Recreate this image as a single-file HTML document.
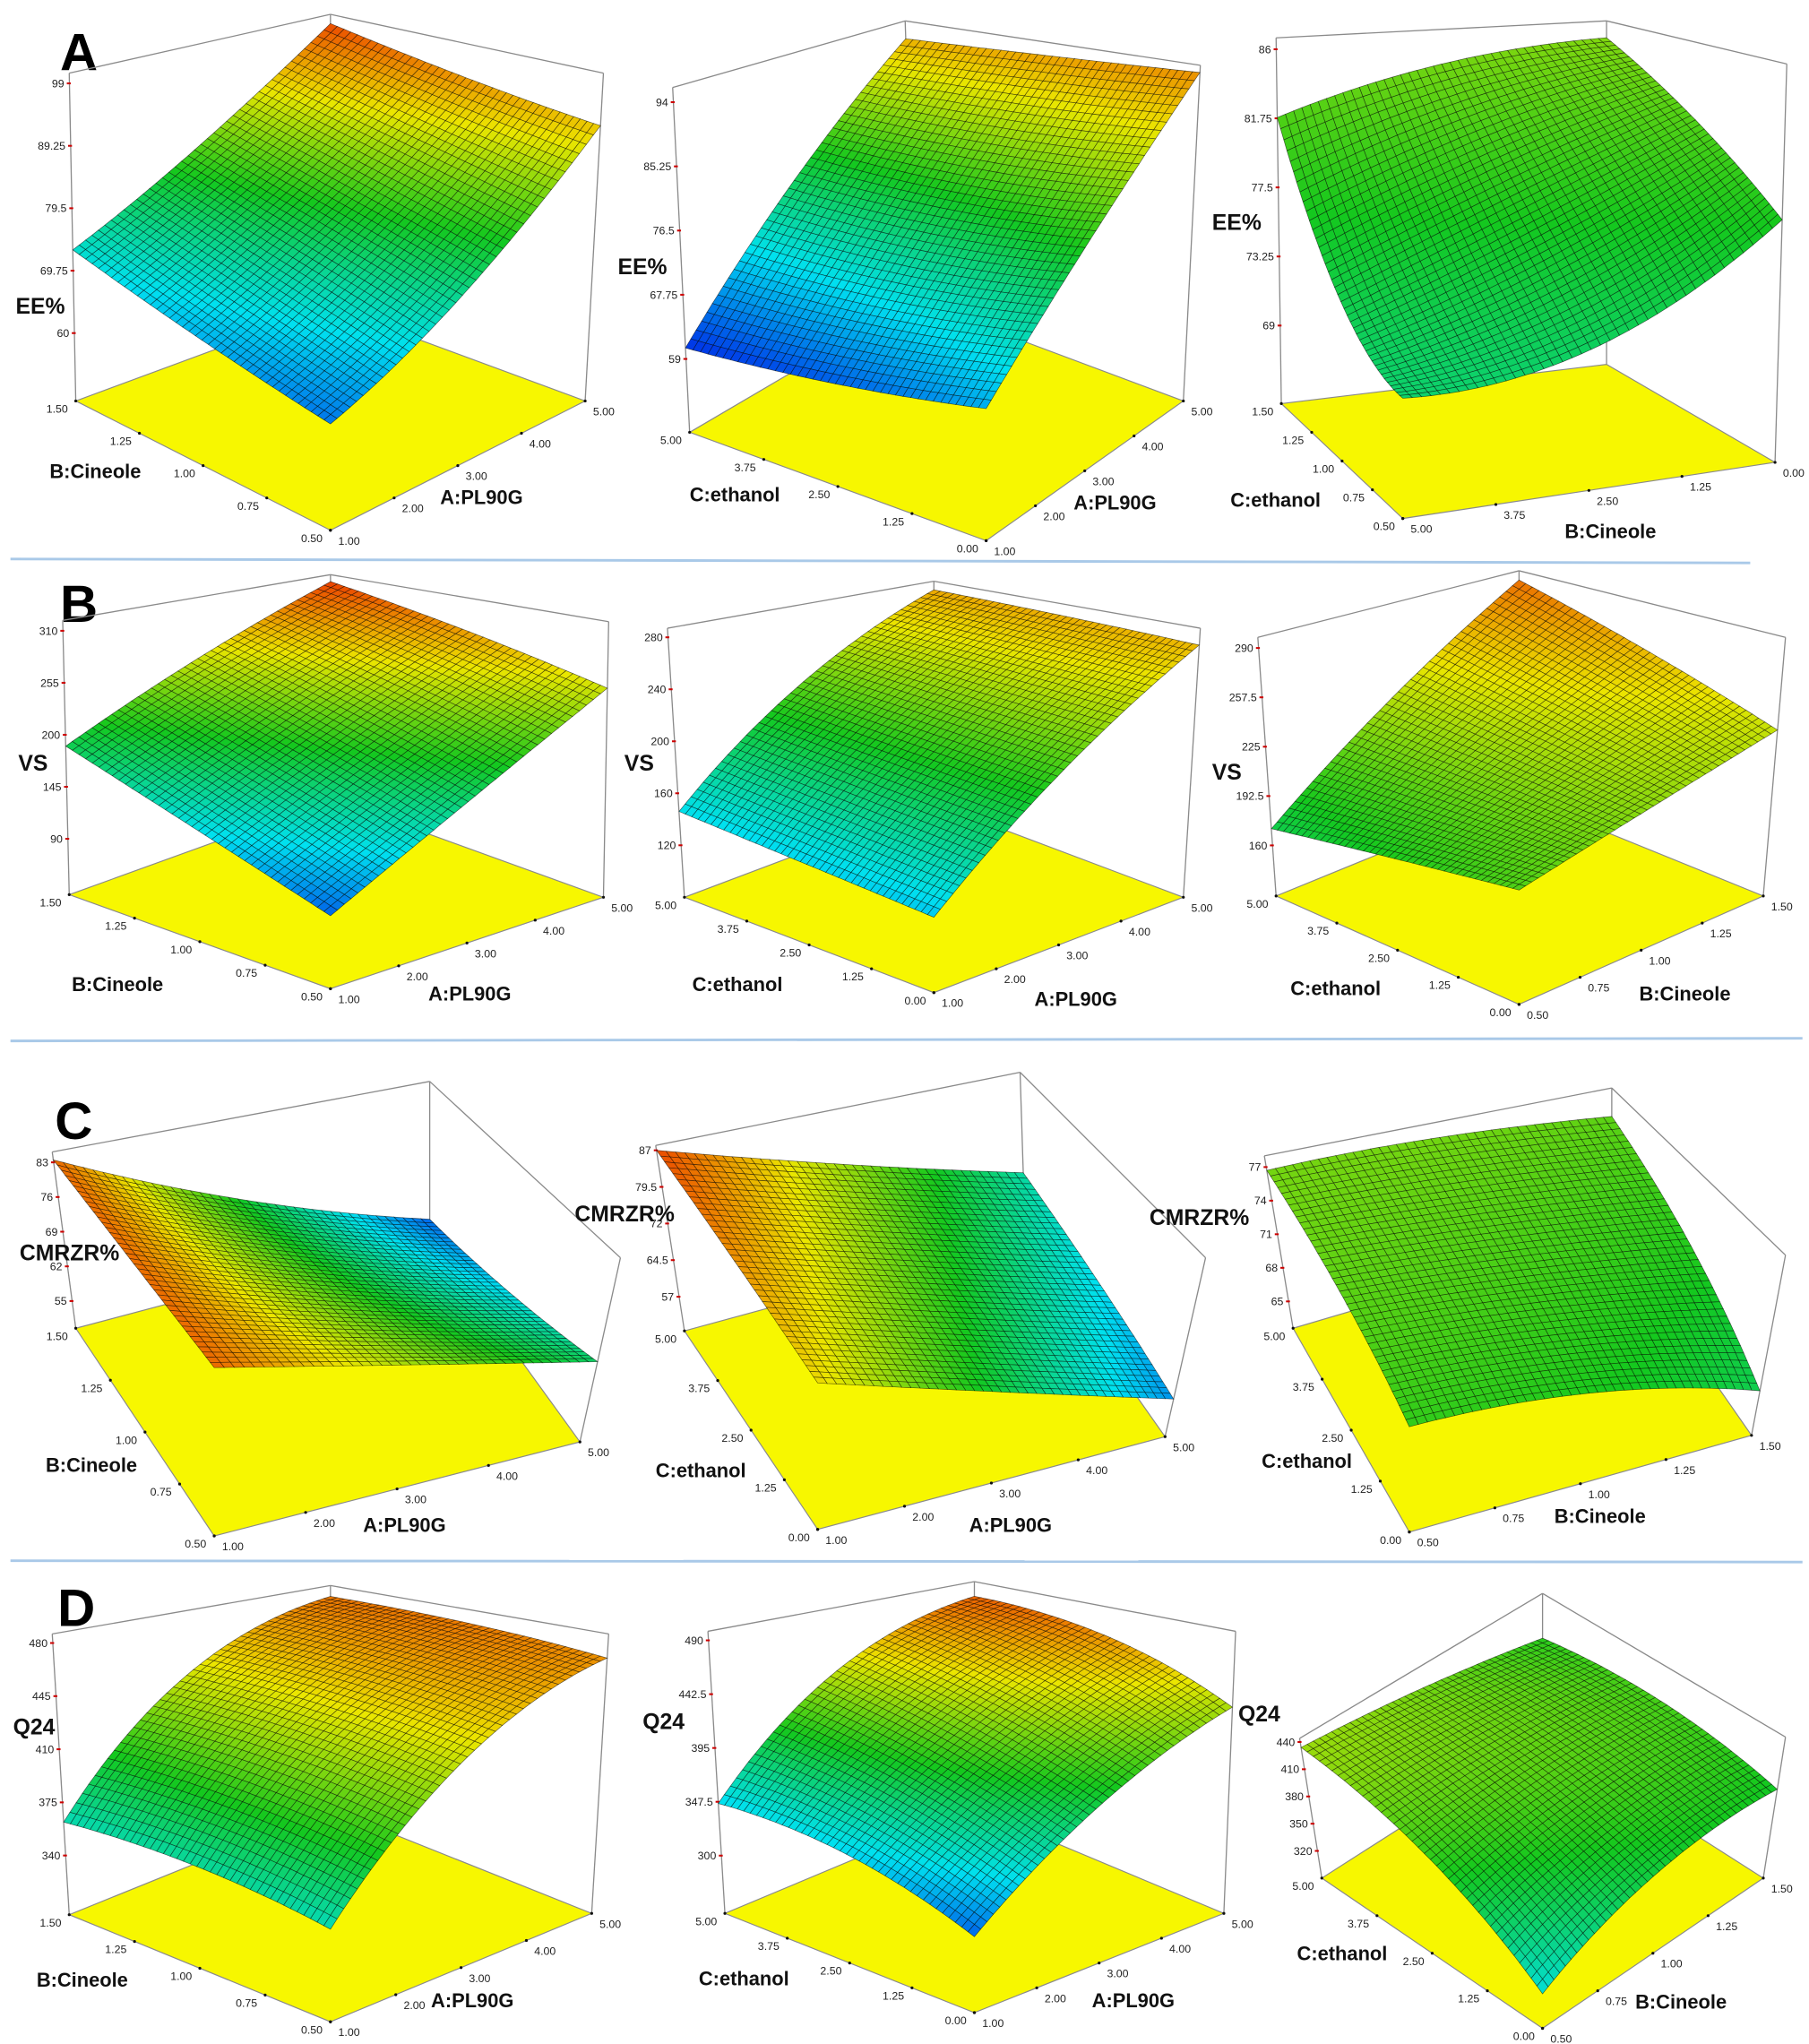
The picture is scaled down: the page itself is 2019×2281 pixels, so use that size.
<!DOCTYPE html>
<html>
<head>
<meta charset="utf-8">
<title>Response surface plots</title>
<style>
  html,body{margin:0;padding:0;background:#fff;}
  svg{display:block;}
  .tk{font-family:"Liberation Sans",sans-serif;font-size:8.5px;fill:#222;}
  .ttl{font-family:"Liberation Sans",sans-serif;font-size:15px;font-weight:bold;fill:#111;}
  .ztl{font-family:"Liberation Sans",sans-serif;font-size:17px;font-weight:bold;fill:#111;}
  .let{font-family:"Liberation Sans",sans-serif;font-size:40px;font-weight:bold;fill:#000;}
</style>
</head>
<body>
<svg id="fig" xmlns="http://www.w3.org/2000/svg" width="2019" height="2281" viewBox="0 0 1385 1565" preserveAspectRatio="none">
  <rect x="0" y="0" width="1385" height="1565" fill="#fff"/>
  <line x1="8" y1="428" x2="1340" y2="431" stroke="#a9c9e8" stroke-width="2"/>
  <line x1="8" y1="797" x2="1380" y2="795" stroke="#a9c9e8" stroke-width="2"/>
  <line x1="8" y1="1195" x2="1380" y2="1196" stroke="#a9c9e8" stroke-width="2"/>
  <text class="let" x="46" y="54">A</text>
  <text class="let" x="46" y="476">B</text>
  <text class="let" x="42" y="872">C</text>
  <text class="let" x="44" y="1245">D</text>
  <g id="plots"></g>
</svg>
<script>
// ---- data: response values on 3x3 grid [u index (front->right)][v index (front->left)] ----
const surfA1 = [[66,69,73],[76,80,84],[92.4,95,99]];
const surfA2 = [[67,63,60.5],[81,78,77],[95,94,93]];
const surfA3 = [[71.6,74,81.8],[72.5,78,84.5],[77.9,82,85.6]];
const surfB1 = [[108,148,188],[180,215,250],[251,282,312]];
const surfB2 = [[138,142,146],[215,218,222],[274,277,279]];
const surfB3 = [[202,187,171],[219,225,231],[236,263,290]];
const surfC1 = [[83.5,83.5,83.5],[74,70,67],[65,59,53]];
const surfC2 = [[80,83.5,87],[69,72.5,76],[58,61.5,65]];
const surfC3 = [[72,75,76.7],[70.5,73.5,76.5],[66.4,71,75]];
const surfD1 = [[362,368,362],[440,445,442],[470,476,477]];
const surfD2 = [[316,345,346],[390,420,440],[431,470,482]];
const surfD3 = [[328,400,434],[380,412,420],[387,405,396]];

const zTicksA1 = [60,69.75,79.5,89.25,99];
const zTicksA2 = [59,67.75,76.5,85.25,94];
const zTicksA3 = [69,73.25,77.5,81.75,86];
const zTicksB1 = [90,145,200,255,310];
const zTicksB2 = [120,160,200,240,280];
const zTicksB3 = [160,192.5,225,257.5,290];
const zTicksC1 = [55,62,69,76,83];
const zTicksC2 = [57,64.5,72,79.5,87];
const zTicksC3 = [65,68,71,74,77];
const zTicksD1 = [340,375,410,445,480];
const zTicksD2 = [300,347.5,395,442.5,490];
const zTicksD3 = [320,350,380,410,440];

const ticksPL90G = ["1.00","2.00","3.00","4.00","5.00"];
const ticksCineole = ["0.50","0.75","1.00","1.25","1.50"];
const ticksEthanol = ["0.00","1.25","2.50","3.75","5.00"];
const ticksCineoleRev = ["5.00","3.75","2.50","1.25","0.00"];

// ---- geometry (screen layout, not data) ----
const panels = [
 {id:"a1",surf:surfA1,zt:zTicksA1,uT:ticksPL90G,vT:ticksCineole,uName:"A:PL90G",vName:"B:Cineole",zName:"EE%",
  L:[58,307],F:[253,406],R:[448,307],K:[253,235],lT:[53,56],fT:[253,155],rT:[462,56],kT:[253,11],zb:49.4,ztop:100.6,cmin:62,cmax:100,
  uPos:[337,386],vPos:[38,366],zPos:[12,240]},
 {id:"a2",surf:surfA2,zt:zTicksA2,uT:ticksPL90G,vT:ticksEthanol,uName:"A:PL90G",vName:"C:ethanol",zName:"EE%",
  L:[528,331],F:[755,414],R:[906,307],K:[700,230],lT:[515,67],fT:[755,150],rT:[919,50],kT:[693,16],zb:49,ztop:96,cmin:60,cmax:100,
  uPos:[822,390],vPos:[528,384],zPos:[473,210]},
 {id:"a3",surf:surfA3,zt:zTicksA3,uT:ticksCineoleRev,vT:ticksCineole,uName:"B:Cineole",vName:"C:ethanol",zName:"EE%",
  L:[981,309],F:[1074,397],R:[1359,354],K:[1230,279],lT:[977,29],fT:[1074,117],rT:[1368,49],kT:[1230,16],zb:64.2,ztop:86.7,cmin:45,cmax:110,
  uPos:[1198,412],vPos:[942,388],zPos:[928,176]},
 {id:"b1",surf:surfB1,zt:zTicksB1,uT:ticksPL90G,vT:ticksCineole,uName:"A:PL90G",vName:"B:Cineole",zName:"VS",
  L:[53,685],F:[253,757],R:[462,687],K:[255,612],lT:[48,475],fT:[253,547],rT:[466,476],kT:[253,440],zb:30.9,ztop:321,cmin:90,cmax:315,
  uPos:[328,766],vPos:[55,759],zPos:[14,590]},
 {id:"b2",surf:surfB2,zt:zTicksB2,uT:ticksPL90G,vT:ticksEthanol,uName:"A:PL90G",vName:"C:ethanol",zName:"VS",
  L:[524,687],F:[715,760],R:[906,687],K:[715,615],lT:[511,481],fT:[715,554],rT:[919,481],kT:[715,445],zb:80,ztop:287,cmin:90,cmax:315,
  uPos:[792,770],vPos:[530,759],zPos:[478,590]},
 {id:"b3",surf:surfB3,zt:zTicksB3,uT:ticksCineole,vT:ticksEthanol,uName:"B:Cineole",vName:"C:ethanol",zName:"VS",
  L:[977,686],F:[1163,769],R:[1350,686],K:[1163,610],lT:[963,488],fT:[1163,571],rT:[1367,488],kT:[1163,437],zb:126.7,ztop:297,cmin:60,cmax:310,
  uPos:[1255,766],vPos:[988,762],zPos:[928,597]},
 {id:"c1",surf:surfC1,zt:zTicksC1,uT:ticksPL90G,vT:ticksCineole,uName:"A:PL90G",vName:"B:Cineole",zName:"CMRZR%",
  L:[58,1017],F:[164,1176],R:[444,1104],K:[329,945],lT:[40,882],fT:[164,1041],rT:[475,963],kT:[329,828],zb:49.5,ztop:85.1,cmin:50,cmax:86,
  uPos:[278,1173],vPos:[35,1127],zPos:[15,965]},
 {id:"c2",surf:surfC2,zt:zTicksC2,uT:ticksPL90G,vT:ticksEthanol,uName:"A:PL90G",vName:"C:ethanol",zName:"CMRZR%",
  L:[524,1019],F:[626,1171],R:[892,1100],K:[785,948],lT:[502,877],fT:[626,1029],rT:[923,963],kT:[781,821],zb:50,ztop:88,cmin:53,cmax:88,
  uPos:[742,1173],vPos:[502,1131],zPos:[440,935]},
 {id:"c3",surf:surfC3,zt:zTicksC3,uT:ticksCineole,vT:ticksEthanol,uName:"B:Cineole",vName:"C:ethanol",zName:"CMRZR%",
  L:[990,1017],F:[1079,1173],R:[1341,1099],K:[1234,945],lT:[968,885],fT:[1079,1041],rT:[1367,961],kT:[1234,833],zb:62.6,ztop:78,cmin:40,cmax:100,
  uPos:[1190,1166],vPos:[966,1124],zPos:[880,938]},
 {id:"d1",surf:surfD1,zt:zTicksD1,uT:ticksPL90G,vT:ticksCineole,uName:"A:PL90G",vName:"B:Cineole",zName:"Q24",
  L:[53,1466],F:[253,1548],R:[453,1465],K:[253,1385],lT:[40,1251],fT:[253,1333],rT:[466,1251],kT:[253,1214],zb:301,ztop:486,cmin:300,cmax:495,
  uPos:[330,1537],vPos:[28,1521],zPos:[10,1328]},
 {id:"d2",surf:surfD2,zt:zTicksD2,uT:ticksPL90G,vT:ticksEthanol,uName:"A:PL90G",vName:"C:ethanol",zName:"Q24",
  L:[555,1465],F:[746,1541],R:[937,1465],K:[746,1385],lT:[542,1249],fT:[746,1325],rT:[946,1249],kT:[746,1211],zb:249,ztop:498,cmin:300,cmax:495,
  uPos:[836,1537],vPos:[535,1520],zPos:[492,1324]},
 {id:"d3",surf:surfD3,zt:zTicksD3,uT:ticksCineole,vT:ticksEthanol,uName:"B:Cineole",vName:"C:ethanol",zName:"Q24",
  L:[1012,1438],F:[1181,1553],R:[1350,1438],K:[1181,1330],lT:[995,1331],fT:[1181,1446],rT:[1367,1330],kT:[1181,1220],zb:290,ztop:444,cmin:250,cmax:530,
  uPos:[1252,1538],vPos:[993,1501],zPos:[948,1318]}
];

const NS = "http://www.w3.org/2000/svg";
const N = 40;
const stops = [[0,[0,40,230]],[0.25,[0,225,240]],[0.5,[20,200,30]],[0.75,[235,230,0]],[1,[235,55,0]]];
function cmap(s){
  s = Math.max(0,Math.min(1,s));
  for(let i=0;i<stops.length-1;i++){
    const a=stops[i],b=stops[i+1];
    if(s<=b[0]){const f=(s-a[0])/(b[0]-a[0]);
      return "rgb("+a[1].map((c,k)=>Math.round(c+(b[1][k]-c)*f)).join(",")+")";}
  }
  return "rgb(235,55,0)";
}
function bil(F,R,L,K,u,v){
  return [F[0]*(1-u)*(1-v)+R[0]*u*(1-v)+L[0]*(1-u)*v+K[0]*u*v,
          F[1]*(1-u)*(1-v)+R[1]*u*(1-v)+L[1]*(1-u)*v+K[1]*u*v];
}
function proj(g,u,v,z){
  const b=bil(g.F,g.R,g.L,g.K,u,v), t=bil(g.fT,g.rT,g.lT,g.kT,u,v);
  const s=(z-g.zb)/(g.ztop-g.zb);
  return [b[0]+(t[0]-b[0])*s, b[1]+(t[1]-b[1])*s];
}
function q(s){return [2*(s-0.5)*(s-1), -4*s*(s-1), 2*s*(s-0.5)];}
function zAt(grid,u,v){
  const a=q(u),b=q(v);let z=0;
  for(let i=0;i<3;i++)for(let j=0;j<3;j++)z+=a[i]*b[j]*grid[i][j];
  return z;
}
function el(tag,attrs,parent){
  const e=document.createElementNS(NS,tag);
  for(const k in attrs)e.setAttribute(k,attrs[k]);
  parent.appendChild(e);return e;
}
function pts(a){return a.map(p=>p[0].toFixed(1)+","+p[1].toFixed(1)).join(" ");}

const root=document.getElementById("plots");
panels.forEach(g=>{
  const grp=el("g",{},root);
  
  
  const box=el("g",{stroke:"#8a8a8a","stroke-width":"0.9",fill:"none"},grp);
  
  
  [[g.L,g.lT],[g.K,g.kT],[g.R,g.rT],[g.lT,g.kT],[g.kT,g.rT]].forEach(s=>{
    const ln=el("line",{x1:s[0][0],y1:s[0][1],x2:s[1][0],y2:s[1][1]},box);
    
    
  });
  const base=el("polygon",{points:pts([g.F,g.R,g.K,g.L]),fill:"#f7f700",stroke:"#8a8a8a","stroke-width":"0.8"},grp);
  
  
  g.zt.forEach(v=>{
    const s=(v-g.zb)/(g.ztop-g.zb);
    const p=[g.L[0]+(g.lT[0]-g.L[0])*s, g.L[1]+(g.lT[1]-g.L[1])*s];
    const tm=el("line",{x1:p[0]-2,y1:p[1],x2:p[0]+1,y2:p[1],stroke:"#c00","stroke-width":"1.4"},grp);
    
    
    const tx=el("text",{x:p[0]-4,y:p[1]+3,"text-anchor":"end","class":"tk"},grp);
    tx.textContent=String(v);
    
    
  });
  g.uT.forEach((lab,i)=>{
    const u=i/(g.uT.length-1);
    const p=bil(g.F,g.R,g.L,g.K,u,0);
    const d=el("circle",{cx:p[0],cy:p[1],r:1.1,fill:"#111"},grp);
    
    
    const tx=el("text",{x:p[0]+6,y:p[1]+11,"text-anchor":"start","class":"tk"},grp);
    tx.textContent=lab;
    
    
  });
  g.vT.forEach((lab,i)=>{
    const v=i/(g.vT.length-1);
    const p=bil(g.F,g.R,g.L,g.K,0,v);
    const d=el("circle",{cx:p[0],cy:p[1],r:1.1,fill:"#111"},grp);
    
    
    const tx=el("text",{x:p[0]-6,y:p[1]+9,"text-anchor":"end","class":"tk"},grp);
    tx.textContent=lab;
    
    
  });
  const sg=el("g",{stroke:"rgba(0,0,0,0.6)","stroke-width":"0.45"},grp);
  
  
  const Z=[];
  for(let i=0;i<=N;i++){Z.push([]);for(let j=0;j<=N;j++)Z[i].push(zAt(g.surf,i/N,j/N));}
  const cells=[];
  for(let i=0;i<N;i++)for(let j=0;j<N;j++)cells.push([i,j]);
  cells.sort((a,b)=>(b[0]+b[1])-(a[0]+a[1]));
  cells.forEach(c=>{
    const i=c[0],j=c[1];
    const P=[proj(g,i/N,j/N,Z[i][j]),proj(g,(i+1)/N,j/N,Z[i+1][j]),proj(g,(i+1)/N,(j+1)/N,Z[i+1][j+1]),proj(g,i/N,(j+1)/N,Z[i][j+1])];
    const zm=(Z[i][j]+Z[i+1][j]+Z[i+1][j+1]+Z[i][j+1])/4;
    const poly=el("polygon",{points:pts(P),fill:cmap((zm-g.cmin)/(g.cmax-g.cmin))},sg);
    
    
  });
  const ut=el("text",{x:g.uPos[0],y:g.uPos[1],"class":"ttl"},grp);
  ut.textContent=g.uName;
  
  
  const vt=el("text",{x:g.vPos[0],y:g.vPos[1],"class":"ttl"},grp);
  vt.textContent=g.vName;
  
  
  const zt=el("text",{x:g.zPos[0],y:g.zPos[1],"class":"ztl"},grp);
  zt.textContent=g.zName;
  
  
});
</script>
</body>
</html>
